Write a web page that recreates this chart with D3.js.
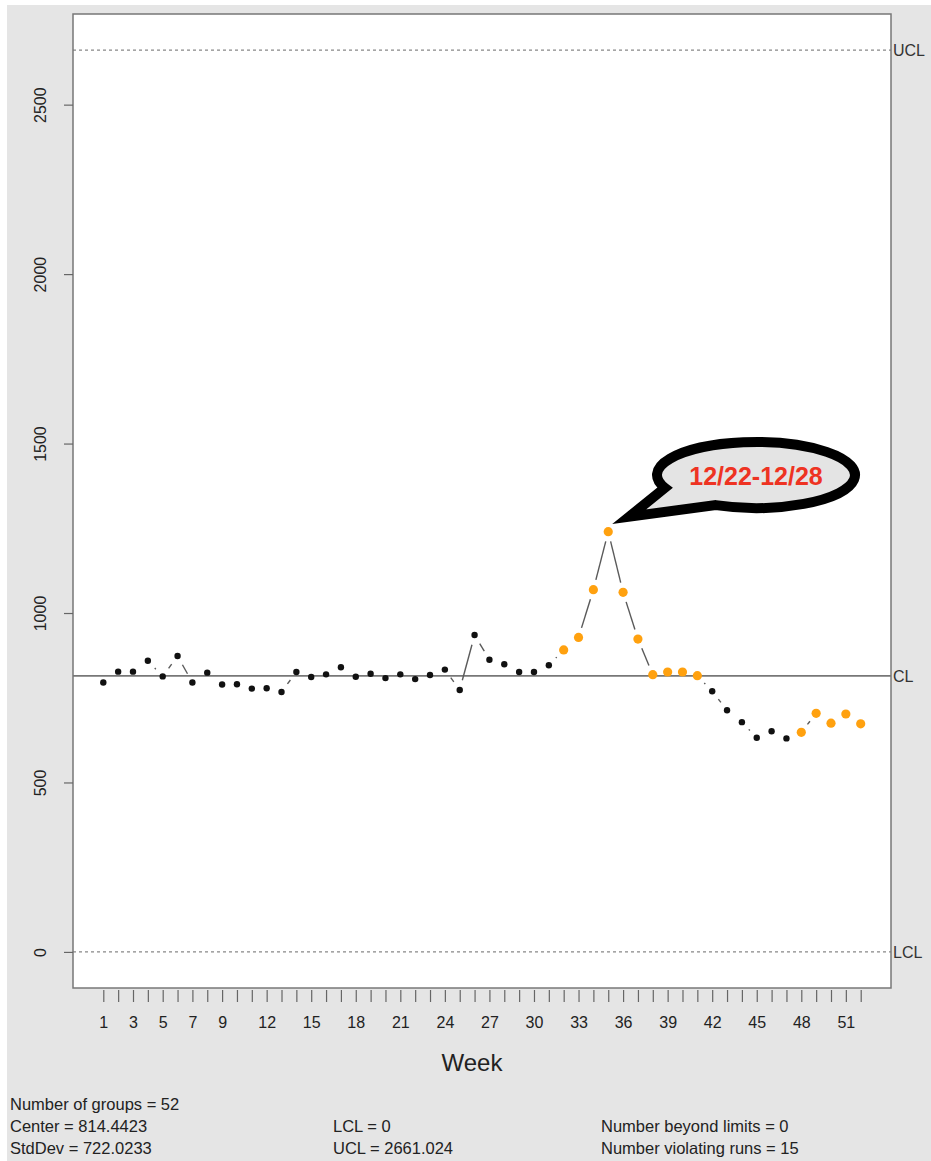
<!DOCTYPE html>
<html>
<head>
<meta charset="utf-8">
<title>Weekly control chart</title>
<script src="https://cdnjs.cloudflare.com/ajax/libs/d3/7.8.5/d3.min.js"></script>
<style>
  body { margin: 0; background: #fff; }
  svg { display: block; font-family: "Liberation Sans", Arial, Helvetica, sans-serif; }
</style>
</head>
<body>
<svg id="chart"></svg>
<script>
// chart data
const weeks = d3.range(1, 53);
const counts = [795, 827, 827, 859, 813, 873, 795, 824, 789, 790, 777, 778, 767, 826, 811, 819,
                840, 812, 821, 808, 819, 805, 817, 833, 773, 935, 862, 849, 826, 826, 846, 891,
                928, 1069, 1240, 1061, 923, 818, 826, 826, 815, 769, 713, 678, 632, 651, 630, 648,
                704, 675, 702, 673];
const violatingWeeks = [32, 33, 34, 35, 36, 37, 38, 39, 40, 41, 48, 49, 50, 51, 52];
const xTickLabels = [1, 3, 5, 7, 9, 12, 15, 18, 21, 24, 27, 30, 33, 36, 39, 42, 45, 48, 51];
const yTicks = [0, 500, 1000, 1500, 2000, 2500];
const limits = [{ name: "UCL", value: 2661.024 }, { name: "CL", value: 814.4423 }, { name: "LCL", value: 0 }];
const calloutWeek = 35;
const calloutText = "12/22-12/28";
const statsRows = [
  ["Number of groups = 52", "", ""],
  ["Center = 814.4423", "LCL = 0", "Number beyond limits = 0"],
  ["StdDev = 722.0233", "UCL = 2661.024", "Number violating runs = 15"]
];

const width = 931, height = 1161;
const box = { left: 73, right: 891, top: 14, bottom: 988 };

const svg = d3.select('#chart').attr('width', width).attr('height', height);

// grey figure background (with thin white edge like the screenshot)
svg.append('rect').attr('x', 7).attr('y', 5).attr('width', width - 7).attr('height', height - 5)
  .attr('fill', '#e5e5e5');
svg.append('rect').attr('x', box.left).attr('y', box.top)
  .attr('width', box.right - box.left).attr('height', box.bottom - box.top)
  .attr('fill', '#fff');

// R style 4% padding on both axes
const xPad = (d3.max(weeks) - d3.min(weeks)) * 0.04;
const x = d3.scaleLinear()
  .domain([d3.min(weeks) - xPad, d3.max(weeks) + xPad])
  .range([box.left, box.right]);
const ucl = limits[0].value;
const yPad = ucl * 0.04;
const y = d3.scaleLinear()
  .domain([0 - yPad, ucl + yPad])
  .range([box.bottom, box.top]);

// control limit lines
limits.forEach(l => {
  svg.append('line')
    .attr('x1', box.left).attr('x2', box.right)
    .attr('y1', y(l.value)).attr('y2', y(l.value))
    .attr('stroke', l.name === 'CL' ? '#777' : '#888')
    .attr('stroke-width', l.name === 'CL' ? 1.6 : 1.2)
    .attr('stroke-dasharray', l.name === 'CL' ? null : '3,3');
  svg.append('text')
    .attr('x', box.right + 2).attr('y', y(l.value))
    .attr('dy', '0.36em')
    .attr('font-size', 16)
    .attr('fill', '#333')
    .text(l.name);
});

// connecting segments with gaps around points (R type = "b")
const pts = weeks.map((w, i) => ({ week: w, value: counts[i], px: x(w), py: y(counts[i]) }));
const gap = 10;
const segs = [];
for (let i = 0; i < pts.length - 1; i++) {
  const a = pts[i], b = pts[i + 1];
  const dx = b.px - a.px, dy = b.py - a.py;
  const len = Math.sqrt(dx * dx + dy * dy);
  if (len > 2 * gap) {
    const ux = dx / len, uy = dy / len;
    segs.push({ x1: a.px + ux * gap, y1: a.py + uy * gap, x2: b.px - ux * gap, y2: b.py - uy * gap });
  }
}
svg.append('g').selectAll('line')
  .data(segs)
  .join('line')
  .attr('x1', d => d.x1).attr('y1', d => d.y1)
  .attr('x2', d => d.x2).attr('y2', d => d.y2)
  .attr('stroke', '#5a5a5a')
  .attr('stroke-width', 1.4);

// points
svg.append('g').selectAll('circle')
  .data(pts)
  .join('circle')
  .attr('cx', d => d.px)
  .attr('cy', d => d.py)
  .attr('r', d => violatingWeeks.includes(d.week) ? 4.6 : 3.2)
  .attr('fill', d => violatingWeeks.includes(d.week) ? '#ffa10f' : '#111');

// frame
svg.append('rect').attr('x', box.left).attr('y', box.top)
  .attr('width', box.right - box.left).attr('height', box.bottom - box.top)
  .attr('fill', 'none').attr('stroke', '#777').attr('stroke-width', 1.5);

// y axis
const yAxis = svg.append('g')
  .attr('transform', `translate(${box.left},0)`)
  .call(d3.axisLeft(y).tickValues(yTicks).tickSize(9).tickFormat(d3.format('d')));
yAxis.select('.domain').remove();
yAxis.selectAll('.tick line').attr('stroke', '#666').attr('stroke-width', 1.2);
yAxis.selectAll('.tick text')
  .attr('font-size', 16)
  .attr('font-family', '"Liberation Sans", Arial, sans-serif')
  .attr('fill', '#222')
  .attr('text-anchor', 'middle')
  .attr('transform', 'translate(-33,0) rotate(-90)')
  .attr('x', 0).attr('y', 0).attr('dy', '0.36em');

// x axis
const xAxis = svg.append('g')
  .attr('transform', `translate(0,${box.bottom + 2})`)
  .call(d3.axisBottom(x).tickValues(weeks).tickSize(12)
    .tickFormat(d => xTickLabels.includes(d) ? d : ''));
xAxis.select('.domain').remove();
xAxis.selectAll('.tick line').attr('stroke', '#666').attr('stroke-width', 1.2);
xAxis.selectAll('.tick text')
  .attr('font-size', 16)
  .attr('font-family', '"Liberation Sans", Arial, sans-serif')
  .attr('fill', '#222')
  .attr('y', 27);

svg.append('text')
  .attr('x', 472).attr('y', 1071)
  .attr('text-anchor', 'middle')
  .attr('font-size', 24)
  .attr('fill', '#222')
  .text('Week');

// stats block
const colX = [10, 333, 601];
statsRows.forEach((row, r) => {
  row.forEach((t, c) => {
    if (!t) return;
    svg.append('text')
      .attr('x', colX[c]).attr('y', 1110 + r * 22)
      .attr('font-size', 16.5)
      .attr('fill', '#222')
      .text(t);
  });
});

// speech bubble callout on the peak week
const peak = pts.find(p => p.week === calloutWeek);
const bc = { cx: 756, cy: 475, rx: 99, ry: 33 };
const ang = deg => [bc.cx + bc.rx * Math.cos(deg * Math.PI / 180), bc.cy + bc.ry * Math.sin(deg * Math.PI / 180)];
const A = ang(157), B = ang(114);
const tip = [peak.px + 21, peak.py - 15];
svg.append('path')
  .attr('d', `M${A[0]},${A[1]} A${bc.rx},${bc.ry} 0 1 1 ${B[0]},${B[1]} L${tip[0]},${tip[1]} Z`)
  .attr('fill', '#e4e4e4')
  .attr('stroke', '#000')
  .attr('stroke-width', 10)
  .attr('stroke-linejoin', 'miter')
  .attr('stroke-miterlimit', 20);
svg.append('text')
  .attr('x', bc.cx).attr('y', 485)
  .attr('text-anchor', 'middle')
  .attr('font-size', 25)
  .attr('font-weight', 'bold')
  .attr('fill', '#ee3322')
  .text(calloutText);
</script>
</body>
</html>
